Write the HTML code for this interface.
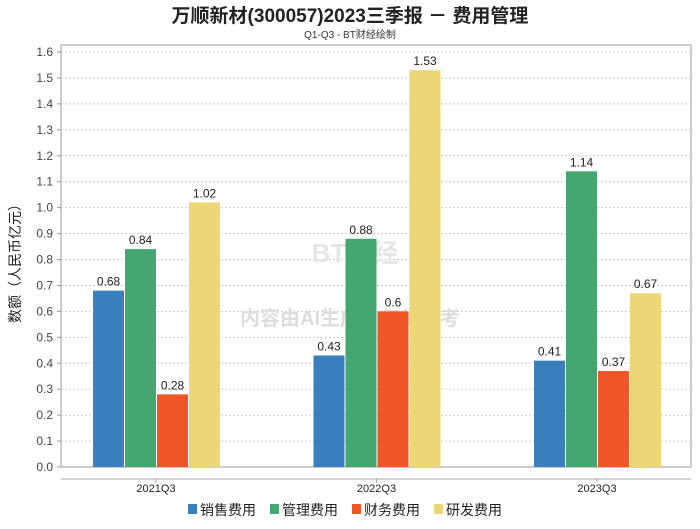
<!DOCTYPE html>
<html><head><meta charset="utf-8"><style>
body{margin:0;background:#fff;width:700px;height:524px;overflow:hidden;font-family:"Liberation Sans","Noto Sans CJK SC",sans-serif}
</style></head><body>
<svg id="c" width="700" height="524" xmlns="http://www.w3.org/2000/svg">
<text x="350" y="22" text-anchor="middle" font-size="19" font-weight="bold" fill="#222">万顺新材(300057)2023三季报 － 费用管理</text>
<text x="350" y="38" text-anchor="middle" font-size="10" fill="#333">Q1-Q3 - BT财经绘制</text>
<text x="20" y="260" transform="rotate(-90 20 260)" text-anchor="middle" font-size="14" fill="#222">数额（人民币亿元）</text>
<g id="grid"></g>
<text x="350" y="325" text-anchor="middle" font-size="20" font-weight="bold" fill="#ddd">内容由AI生成，仅供参考</text>
<text x="355" y="262" text-anchor="middle" font-size="26" font-weight="bold" fill="#e6e6e6">BT财经</text>
<g id="bars"></g>
<g id="legend" font-size="14" fill="#222"></g>
</svg>
<script>
const categories=["2021Q3","2022Q3","2023Q3"];
const seriesNames=["销售费用","管理费用","财务费用","研发费用"];
const sales=[0.68,0.43,0.41];
const admin=[0.84,0.88,1.14];
const finance=[0.28,0.6,0.37];
const rnd=[1.02,1.53,0.67];
const yTicks=[0,0.1,0.2,0.3,0.4,0.5,0.6,0.7,0.8,0.9,1.0,1.1,1.2,1.3,1.4,1.5,1.6];
const colors=["#3a80bd","#45a672","#ef5627","#ecd677"];
const NS="http://www.w3.org/2000/svg";
const L=61,R=691,T=45,B=467;
const y=v=>B-v*(B-52)/1.6;
const xc=i=>156+i*220.5;
function mk(tag,a,p){const e=document.createElementNS(NS,tag);for(const k in a)e.setAttribute(k,a[k]);p.appendChild(e);return e;}
const g=document.getElementById('grid');
const fr=mk('rect',{x:L,y:T,width:R-L,height:B-T,fill:'none',stroke:'#999','stroke-width':1},g);


yTicks.forEach(v=>{
 if(v>0){const ln=mk('line',{x1:L,x2:R,y1:y(v),y2:y(v),stroke:'#ccc','stroke-dasharray':'2,2'},g);
 
 }
 const t=mk('text',{x:L-8,y:y(v)+4,'text-anchor':'end','font-size':12,fill:'#444'},g);t.textContent=v.toFixed(1);
 
 
 mk('line',{x1:L-4,x2:L,y1:y(v),y2:y(v),stroke:'#999'},g);
});
const ax=mk('line',{x1:L,x2:R,y1:B+12,y2:B+12,stroke:'#aaa'},g);


categories.forEach((c,i)=>{
 mk('line',{x1:xc(i),x2:xc(i),y1:B+12,y2:B+16,stroke:'#aaa'},g);
 const t=mk('text',{x:xc(i),y:B+21+4,'text-anchor':'middle','font-size':11,fill:'#222'},g);t.textContent=c;
 
 
});
const bg=document.getElementById('bars');
[sales,admin,finance,rnd].forEach((s,si)=>{
 s.forEach((v,i)=>{
  const x=xc(i)-63+si*32;
  const r=mk('rect',{x:x,y:y(v),width:31,height:B-y(v),fill:colors[si]},bg);
  
  
  const t=mk('text',{x:x+15.5,y:y(v)-5,'text-anchor':'middle','font-size':12,fill:'#222'},bg);t.textContent=String(v);
  
  
 });
});
const lg=document.getElementById('legend');
let lx=188;
seriesNames.forEach((n,i)=>{
 const r=mk('rect',{x:lx,y:504,width:9,height:10,fill:colors[i]},lg);
 
 
 const t=mk('text',{x:lx+12,y:515,'font-size':14,fill:'#222'},lg);t.textContent=n;
 
 
 lx+=82;
});
</script>
</body></html>
